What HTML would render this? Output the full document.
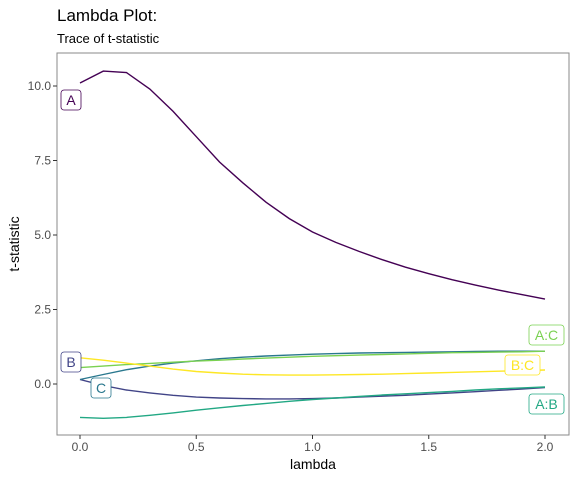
<!DOCTYPE html>
<html><head><meta charset="utf-8"><style>
body{margin:0;background:#fff;font-family:"Liberation Sans",sans-serif}
</style></head><body>
<svg width="576" height="480" xmlns="http://www.w3.org/2000/svg" font-family="Liberation Sans, sans-serif">
<text x="57" y="21" font-size="17" fill="#000">Lambda Plot:</text>
<text x="57" y="43" font-size="13" fill="#000">Trace of t-statistic</text>
<rect x="57" y="53" width="512" height="382" fill="none" stroke="#8a8a8a" stroke-width="1"/>
<g id="axes"></g>
<g id="lines"></g>
<g id="labels"></g>
<text x="313" y="469" font-size="14" text-anchor="middle">lambda</text>
<text x="19" y="244" font-size="14" text-anchor="middle" transform="rotate(-90 19 244)">t-statistic</text>
</svg>
<script>
const lambdas=[0,0.1,0.2,0.3,0.4,0.5,0.6,0.7,0.8,0.9,1.0,1.1,1.2,1.3,1.4,1.5,1.6,1.7,1.8,1.9,2.0];
const seriesA=[10.1,10.5,10.45,9.9,9.15,8.3,7.45,6.75,6.1,5.55,5.1,4.75,4.45,4.17,3.92,3.7,3.5,3.32,3.15,3.0,2.85];
const seriesB=[0.15,-0.05,-0.2,-0.3,-0.38,-0.44,-0.47,-0.49,-0.5,-0.5,-0.49,-0.47,-0.44,-0.41,-0.38,-0.34,-0.3,-0.26,-0.21,-0.17,-0.12];
const seriesC=[0.15,0.32,0.48,0.6,0.7,0.78,0.85,0.9,0.94,0.97,1.0,1.02,1.04,1.05,1.06,1.07,1.08,1.09,1.1,1.1,1.1];
const seriesAB=[-1.12,-1.15,-1.12,-1.05,-0.97,-0.88,-0.8,-0.72,-0.65,-0.58,-0.52,-0.47,-0.42,-0.37,-0.33,-0.29,-0.25,-0.2,-0.16,-0.13,-0.1];
const seriesAC=[0.55,0.6,0.65,0.69,0.73,0.77,0.8,0.84,0.87,0.9,0.93,0.95,0.97,0.99,1.01,1.03,1.05,1.06,1.07,1.08,1.1];
const seriesBC=[0.88,0.8,0.7,0.6,0.5,0.42,0.37,0.33,0.31,0.3,0.3,0.31,0.32,0.33,0.35,0.37,0.39,0.41,0.43,0.45,0.47];
const seriesNames=["A","B","C","A:B","A:C","B:C"];
const xTicks=[0,0.5,1.0,1.5,2.0];
const xTickLabels=["0.0","0.5","1.0","1.5","2.0"];
const yTicks=[0,2.5,5,7.5,10];
const yTickLabels=["0.0","2.5","5.0","7.5","10.0"];
const NS="http://www.w3.org/2000/svg";
const xs=v=>80+v*232.5;
const ys=v=>384-v*29.8;
function mk(t,a,p){const e=document.createElementNS(NS,t);for(const k in a)e.setAttribute(k,a[k]);p.appendChild(e);return e;}
const ax=document.getElementById('axes');
xTicks.forEach((t,i)=>{
 const l=mk('line',{x1:xs(t),x2:xs(t),y1:435,y2:439,stroke:'#333'},ax);
 
 
 const tx=mk('text',{x:xs(t),y:451,'font-size':12,'text-anchor':'middle',fill:'#4d4d4d'},ax);
 tx.textContent=xTickLabels[i];
 
 
});
yTicks.forEach((t,i)=>{
 const l=mk('line',{x1:53,x2:57,y1:ys(t),y2:ys(t),stroke:'#333'},ax);
 
 
 const tx=mk('text',{x:51,y:ys(t)+4,'font-size':12,'text-anchor':'end',fill:'#4d4d4d'},ax);
 tx.textContent=yTickLabels[i];
 
 
});
const series=[seriesA,seriesB,seriesC,seriesAB,seriesAC,seriesBC];
const colors=["#440154","#414487","#2A788E","#22A884","#7AD151","#FDE725"];
const lg=document.getElementById('lines');
series.forEach((s,i)=>{
 const d=s.map((v,j)=>(j?'L':'M')+xs(lambdas[j]).toFixed(1)+','+ys(v).toFixed(1)).join(' ');
 const p=mk('path',{d:d,fill:'none',stroke:colors[i],'stroke-width':1.4},lg);
 
 
});
const labelBoxes=[[61,90,20],[61,352,20],[91,378,20],[529,394,35],[529,325,35],[505,355,35]];
const lb=document.getElementById('labels');
labelBoxes.forEach((b,i)=>{
 const g=mk('g',{},lb);
 
 
 mk('rect',{x:b[0],y:b[1],width:b[2],height:20,rx:3,fill:'#fff',stroke:colors[i],'stroke-width':0.8},g);
 const t=mk('text',{x:b[0]+b[2]/2,y:b[1]+15,'font-size':14,'text-anchor':'middle',fill:colors[i]},g);
 t.textContent=seriesNames[i];
});
</script>
</body></html>
